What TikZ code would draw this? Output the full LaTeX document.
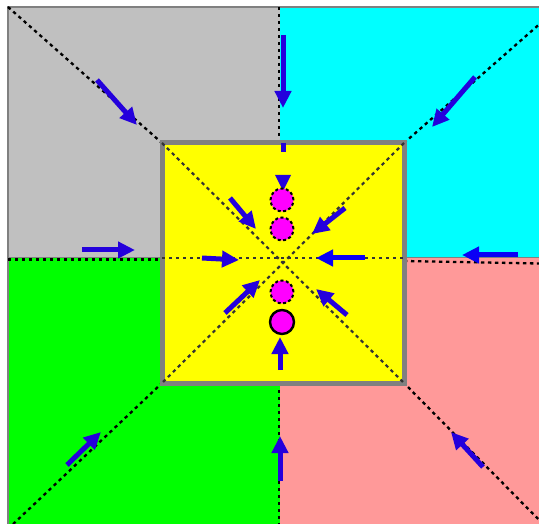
\documentclass[tikz,border=0pt]{standalone}
\usetikzlibrary{arrows.meta}
\definecolor{qgray}{RGB}{192,192,192}
\definecolor{qcyan}{RGB}{0,255,255}
\definecolor{qgreen}{RGB}{0,255,0}
\definecolor{qpink}{RGB}{255,153,153}
\definecolor{qyellow}{RGB}{255,255,0}
\definecolor{edgegray}{RGB}{128,128,128}
\definecolor{arrowblue}{RGB}{36,0,220}
\definecolor{pureblue}{RGB}{10,0,245}
\definecolor{dotmag}{RGB}{255,0,255}
\begin{document}
\begin{tikzpicture}[x=1pt,y=-1pt,
  flow/.style={draw=arrowblue, line width=5pt, -{Triangle[length=17pt,width=16pt]}},
  divider/.style={black, line width=2.3pt, dash pattern=on 3.4pt off 3.6pt},
  innerdiv/.style={black!80, line width=2.2pt, dash pattern=on 3.4pt off 3.6pt},
  quad/.style={draw=edgegray, line width=1.6pt},
  token/.style={circle, minimum size=23pt, inner sep=0pt, fill=dotmag, draw=black, line width=2pt, dash pattern=on 3pt off 2.5pt},
  lasttoken/.style={circle, minimum size=24pt, inner sep=0pt, fill=dotmag, draw=black, line width=2.4pt}]
\useasboundingbox (0,0) rectangle (539,524);
\begin{scope}
\clip (0,0) rectangle (539,524);
% corners
\coordinate (OTL) at (8,7);
\coordinate (OTR) at (559,7);
\coordinate (OBL) at (8,529);
\coordinate (OBR) at (548,529);
\coordinate (ITL) at (162,143);
\coordinate (ITR) at (404,143);
\coordinate (IBL) at (162,383);
\coordinate (IBR) at (404,383);
% quadrants
\fill[qgray] (8,7) rectangle (280,258);
\fill[qcyan] (280,7) rectangle (570,258);
\fill[qgreen] (8,258) rectangle (280,540);
\fill[qpink] (280,258) rectangle (570,540);
\draw[quad] (8,540) -- (8,7) -- (570,7);
\draw[quad] (8,257.5) -- (570,257.5);
% outer dividers
\draw[divider] (OTL) -- (ITL);
\draw[divider] (OTR) -- (ITR);
\draw[divider] (OBL) -- (IBL);
\draw[divider] (OBR) -- (IBR);
\draw[divider] (279,7) -- (279,143);
\draw[divider] (279,383) -- (279,540);
\draw[divider] (8,259.5) -- (162,259.5);
\draw[divider] (404,261) -- (539,263.5);
% outer arrows
\coordinate (a1s) at (97,80);   \coordinate (a1e) at (137,125);
\coordinate (a2s) at (283,35);  \coordinate (a2e) at (283,108);
\coordinate (a3s) at (475,77);  \coordinate (a3e) at (432,127);
\coordinate (a4s) at (82,250);  \coordinate (a4e) at (135,250);
\coordinate (a5s) at (518,255); \coordinate (a5e) at (462,255);
\coordinate (a6s) at (67,465);  \coordinate (a6e) at (101,432);
\coordinate (a7s) at (280,481); \coordinate (a7e) at (280,436);
\coordinate (a8s) at (483,467); \coordinate (a8e) at (451,432);
\draw[flow] (a1s) -- (a1e);
\draw[flow] (a2s) -- (a2e);
\draw[flow] (a3s) -- (a3e);
\draw[flow] (a4s) -- (a4e);
\draw[flow, draw=pureblue] (a5s) -- (a5e);
\draw[flow] (a6s) -- (a6e);
\draw[flow] (a7s) -- (a7e);
\draw[flow] (a8s) -- (a8e);
% inner square
\draw[edgegray, line width=5pt, fill=qyellow] (ITL) rectangle (IBR);
\draw[innerdiv] (ITL) -- (IBR);
\draw[innerdiv] (ITR) -- (IBL);
\draw[innerdiv] (162,258) -- (404,258);
% inner arrows
\coordinate (b1s) at (230,198); \coordinate (b1e) at (256,229);
\coordinate (b2s) at (345,208); \coordinate (b2e) at (312,234);
\coordinate (b3s) at (202,258); \coordinate (b3e) at (239,260);
\coordinate (b4s) at (365,258); \coordinate (b4e) at (316,258);
\coordinate (b5s) at (225,313); \coordinate (b5e) at (260,280);
\coordinate (b6s) at (347,315); \coordinate (b6e) at (316,289);
\coordinate (b7s) at (280,370); \coordinate (b7e) at (280,337);
\draw[flow] (b1s) -- (b1e);
\draw[flow] (b2s) -- (b2e);
\draw[flow] (b3s) -- (b3e);
\draw[flow, draw=pureblue] (b4s) -- (b4e);
\draw[flow] (b5s) -- (b5e);
\draw[flow] (b6s) -- (b6e);
\draw[flow] (b7s) -- (b7e);
% top entry stub and head
\draw[arrowblue, line width=5pt] (283,143) -- (283,152);
\fill[arrowblue] (275,175) -- (291,175) -- (283,191) -- cycle;
% tokens
\node[token] (t1) at (282,200) {};
\node[token] (t2) at (282,229) {};
\node[token] (t3) at (282,292) {};
\node[lasttoken] (t4) at (282,322) {};
\end{scope}
\end{tikzpicture}
\end{document}
